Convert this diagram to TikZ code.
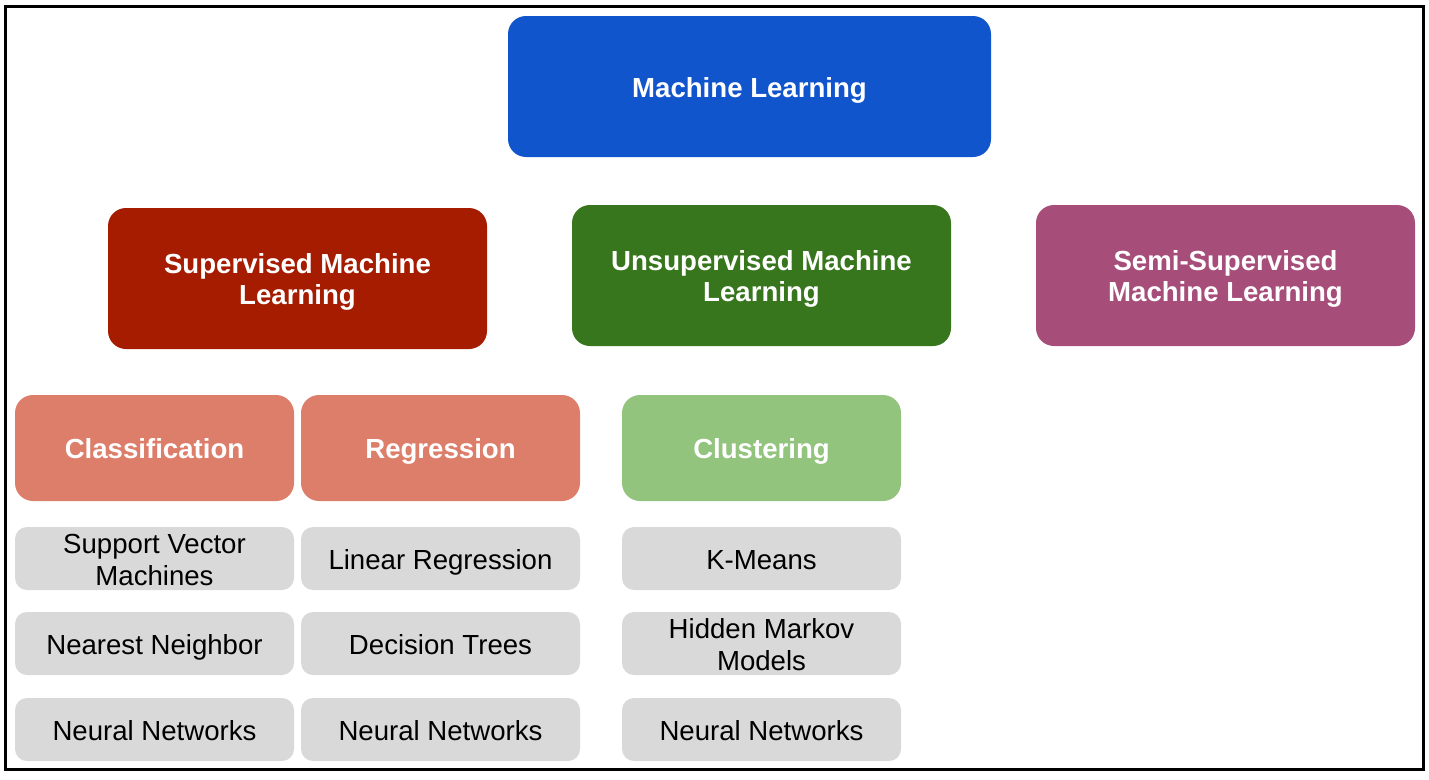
\documentclass[tikz,border=0pt]{standalone}
\usepackage{fontspec}
\setmainfont{Liberation Sans}
\definecolor{mlblue}{HTML}{1155CC}
\definecolor{supred}{HTML}{A61C00}
\definecolor{unsgreen}{HTML}{38761D}
\definecolor{semipurple}{HTML}{A64D79}
\definecolor{salmon}{HTML}{DD7E6B}
\definecolor{lightgreen}{HTML}{93C47D}
\definecolor{lgray}{HTML}{D9D9D9}
\begin{document}
\begin{tikzpicture}[x=1pt,y=-1pt,
  headbox/.style={rounded corners=18pt, draw=none},
  leafbox/.style={rounded corners=12pt, draw=none, fill=lgray},
  txt/.style={inner sep=0pt, align=center, anchor=base,
    font=\fontsize{27.6}{31.5}\selectfont},
  head/.style={txt, text=white, font=\fontsize{27.6}{31.5}\selectfont\bfseries},
  leaf/.style={txt, text=black}]
\useasboundingbox (0,0) rectangle (1429,779);
\draw[line width=3pt] (5.5,6.5) rectangle (1423.5,769.5);
% top
\path[headbox, fill=mlblue] (508,16) rectangle (991,157);
\node[head] (ml) at (749.5,97) {Machine Learning};
% second level
\path[headbox, fill=supred] (108,208) rectangle (487,349);
\node[head] (sup) at (297.5,304.5) {Supervised Machine\\Learning};
\path[headbox, fill=unsgreen] (572,205) rectangle (951,346);
\node[head] (uns) at (761.5,301.5) {Unsupervised Machine\\Learning};
\path[headbox, fill=semipurple] (1036,205) rectangle (1415,346);
\node[head] (semi) at (1225.5,301.5) {Semi-Supervised\\Machine Learning};
% third level
\path[headbox, fill=salmon] (15,395) rectangle (294,501);
\node[head] (cls) at (154.5,458.5) {Classification};
\path[headbox, fill=salmon] (301,395) rectangle (580,501);
\node[head] (reg) at (440.5,458.5) {Regression};
\path[headbox, fill=lightgreen] (622,395) rectangle (901,501);
\node[head] (clu) at (761.5,458.5) {Clustering};
% leaves
\foreach \x in {15,301,622}{
  \foreach \y in {527,612,698}{
    \path[leafbox] (\x,\y) rectangle ++(279,63);
  }
}
\node[leaf] (a1) at (154.5,585) {Support Vector\\Machines};
\node[leaf] (a2) at (154.5,654) {Nearest Neighbor};
\node[leaf] (a3) at (154.5,740) {Neural Networks};
\node[leaf] (b1) at (440.5,569) {Linear Regression};
\node[leaf] (b2) at (440.5,654) {Decision Trees};
\node[leaf] (b3) at (440.5,740) {Neural Networks};
\node[leaf] (c1) at (761.5,569) {K-Means};
\node[leaf] (c2) at (761.5,670) {Hidden Markov\\Models};
\node[leaf] (c3) at (761.5,740) {Neural Networks};
\end{tikzpicture}
\end{document}
